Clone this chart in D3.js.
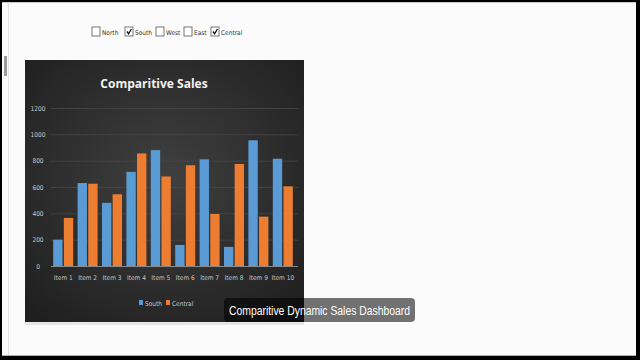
<!DOCTYPE html>
<html>
<head>
<meta charset="utf-8">
<script src="https://cdn.jsdelivr.net/npm/d3@7"></script>
<style>
  body { margin: 0; background: #000; }
  svg { display: block; }
  .cond { font-family: "DejaVu Sans", sans-serif; font-stretch: condensed; }
</style>
</head>
<body>
<div id="chart"></div>
<script>
let width = 640;
let height = 360;

// data
var items = ["Item 1", "Item 2", "Item 3", "Item 4", "Item 5", "Item 6", "Item 7", "Item 8", "Item 9", "Item 10"];
var southValues = [200, 630, 480, 715, 880, 160, 810, 145, 955, 815];
var centralValues = [365, 625, 545, 855, 680, 765, 395, 775, 375, 605];
var seriesNames = ["South", "Central"];
var regionNames = ["North", "South", "West", "East", "Central"];
var regionChecked = [false, true, false, false, true];
var yTicks = [0, 200, 400, 600, 800, 1000, 1200];

var colors = { South: "#5b9bd5", Central: "#ed7d31" };

var svg = d3.select("#chart").append("svg")
    .attr("width", width)
    .attr("height", height);

var defs = svg.append("defs");
var grad = defs.append("radialGradient").attr("id", "bg")
    .attr("cx", "50%").attr("cy", "45%").attr("r", "70%");
grad.append("stop").attr("offset", "0%").attr("stop-color", "#404040");
grad.append("stop").attr("offset", "100%").attr("stop-color", "#1f1f1f");

// page (spreadsheet area) inside the video frame
svg.append("rect")
    .attr("x", 2).attr("y", 2)
    .attr("width", 634).attr("height", 354)
    .attr("fill", "#fbfbfb");
svg.append("line")
    .attr("x1", 2).attr("x2", 636).attr("y1", 2.5).attr("y2", 2.5)
    .attr("stroke", "#c8c8c8");
svg.append("line")
    .attr("x1", 2).attr("x2", 636).attr("y1", 355.5).attr("y2", 355.5)
    .attr("stroke", "#b0b0b0");
// scroll marker at the left edge
svg.append("rect")
    .attr("x", 4).attr("y", 56).attr("width", 3).attr("height", 20)
    .attr("fill", "#9a9a9a");
svg.append("line")
    .attr("x1", 8.5).attr("x2", 8.5).attr("y1", 2).attr("y2", 355)
    .attr("stroke", "#e2e2e2");

// checkboxes
var boxX = [92, 125, 156, 184, 211];
var cb = svg.append("g").selectAll("g")
    .data(regionNames)
    .enter()
    .append("g")
    .attr("transform", function (d, i) { return "translate(" + boxX[i] + ",27)"; });
cb.append("rect")
    .attr("width", 8).attr("height", 9)
    .attr("fill", "#fff")
    .attr("stroke", "#555")
    .attr("stroke-width", 0.8);
cb.filter(function (d, i) { return regionChecked[i]; })
    .append("path")
    .attr("d", "M2,4.5 L3.6,6.8 L6.4,2")
    .attr("fill", "none")
    .attr("stroke", "#111")
    .attr("stroke-width", 1.4);
cb.append("text")
    .attr("class", "cond")
    .attr("x", 10).attr("y", 7.5)
    .style("font-size", "6.5px")
    .attr("fill", "#333")
    .text(function (d) { return d; });

// chart panel
var panel = { x: 25, y: 60, w: 279, h: 262 };
svg.append("rect")
    .attr("x", panel.x).attr("y", panel.y + 3)
    .attr("width", panel.w).attr("height", panel.h)
    .attr("fill", "#e6e6e6");
svg.append("rect")
    .attr("x", panel.x).attr("y", panel.y)
    .attr("width", panel.w).attr("height", panel.h)
    .attr("fill", "url(#bg)");

svg.append("text")
    .attr("x", 154).attr("y", 88)
    .attr("text-anchor", "middle")
    .style("font-family", "Open Sans, DejaVu Sans, sans-serif")
    .style("font-weight", "bold")
    .style("font-size", "12px")
    .attr("fill", "#f2f2f2")
    .text("Comparitive Sales");

// scales
var x = d3.scaleBand()
    .domain(items)
    .range([51, 295])
    .paddingInner(0.18)
    .paddingOuter(0.09);
var xSub = d3.scaleBand()
    .domain(seriesNames)
    .range([0, x.bandwidth()])
    .paddingInner(0.12);
var y = d3.scaleLinear()
    .domain([0, 1200])
    .range([266, 108]);

// gridlines
svg.append("g")
    .selectAll("line")
    .data(yTicks.filter(function (d) { return d > 0; }))
    .enter()
    .append("line")
    .attr("x1", 51).attr("x2", 298)
    .attr("y1", function (d) { return y(d) + 0.5; })
    .attr("y2", function (d) { return y(d) + 0.5; })
    .attr("stroke", "#474747")
    .attr("stroke-width", 0.8);

// y axis labels
var yAxis = d3.axisLeft(y).tickValues(yTicks).tickFormat(d3.format("d")).tickSize(0).tickPadding(6);
var yg = svg.append("g")
    .attr("transform", "translate(46,0)")
    .call(yAxis);
yg.select(".domain").remove();
yg.selectAll("text")
    .attr("class", "cond")
    .attr("fill", "#c8c8c8")
    .style("font-size", "6.5px")
    .attr("text-anchor", "middle")
    .attr("x", -8);

// bars
var rows = items.map(function (d, i) {
    return { item: d, South: southValues[i], Central: centralValues[i] };
});
var groups = svg.append("g")
    .selectAll("g")
    .data(rows)
    .enter()
    .append("g")
    .attr("transform", function (d) { return "translate(" + x(d.item) + ",0)"; });
groups.selectAll("rect")
    .data(function (d) { return seriesNames.map(function (s) { return { key: s, value: d[s] }; }); })
    .enter()
    .append("rect")
    .attr("x", function (d) { return xSub(d.key); })
    .attr("width", xSub.bandwidth())
    .attr("y", function (d) { return y(d.value); })
    .attr("height", function (d) { return y(0) - y(d.value); })
    .attr("fill", function (d) { return colors[d.key]; });

// x axis
var xAxis = d3.axisBottom(x).tickSize(0).tickPadding(9);
var xg = svg.append("g")
    .attr("transform", "translate(0," + y(0) + ")")
    .call(xAxis);
xg.select(".domain")
    .attr("stroke", "#8a8a8a")
    .attr("d", "M51,0.5H298");
xg.selectAll("text")
    .attr("class", "cond")
    .attr("fill", "#c8c8c8")
    .style("font-size", "6.5px");

// legend
var legX = [139, 166];
var leg = svg.append("g").selectAll("g")
    .data(seriesNames)
    .enter()
    .append("g")
    .attr("transform", function (d, i) { return "translate(" + legX[i] + ",300)"; });
leg.append("rect")
    .attr("width", 4).attr("height", 5)
    .attr("fill", function (d) { return colors[d]; });
leg.append("text")
    .attr("class", "cond")
    .attr("x", 6).attr("y", 5.5)
    .attr("fill", "#c8c8c8")
    .style("font-size", "6.5px")
    .text(function (d) { return d; });

// video caption
svg.append("rect")
    .attr("x", 224).attr("y", 298)
    .attr("width", 191).attr("height", 24)
    .attr("rx", 4)
    .attr("fill", "#000")
    .attr("fill-opacity", 0.55);
svg.append("text")
    .attr("x", 229).attr("y", 315)
    .attr("textLength", 181)
    .attr("lengthAdjust", "spacingAndGlyphs")
    .style("font-family", "Liberation Sans, sans-serif")
    .style("font-size", "13px")
    .attr("fill", "#ffffff")
    .text("Comparitive Dynamic Sales Dashboard");
</script>
</body>
</html>
